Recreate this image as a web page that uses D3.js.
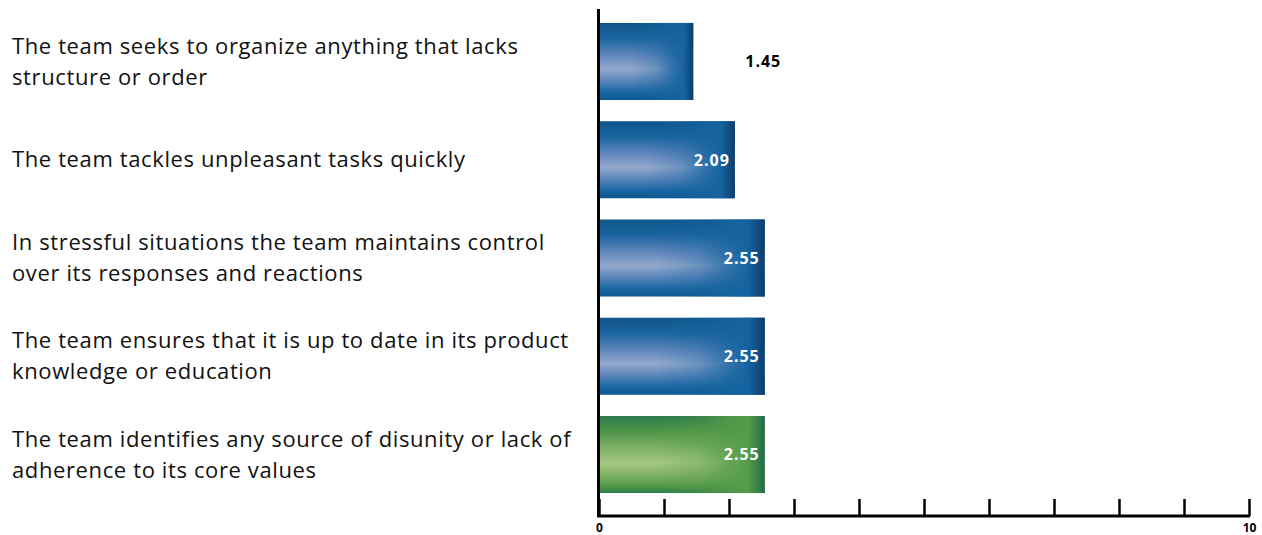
<!DOCTYPE html>
<html>
<head>
<meta charset="utf-8">
<script src="https://cdn.jsdelivr.net/npm/d3@7"></script>
<style>
  html, body { margin: 0; padding: 0; background: #fff; }
  svg { display: block; }
  .cat { font-family: "Open Sans", Lato, sans-serif; font-size: 22px; letter-spacing: 0.62px; fill: #111; }
  .val { font-family: "Open Sans", Lato, sans-serif; font-size: 16px; font-weight: 700; letter-spacing: 1px; }
  .tick-label { font-family: "Open Sans", Lato, sans-serif; font-size: 12px; font-weight: 700; fill: #000; }
</style>
</head>
<body>
<svg id="chart" width="1262" height="535"></svg>
<script>
// Statements, top to bottom (line breaks mark how each label wraps)
const categories = [
  "The team seeks to organize anything that lacks\nstructure or order",
  "The team tackles unpleasant tasks quickly",
  "In stressful situations the team maintains control\nover its responses and reactions",
  "The team ensures that it is up to date in its product\nknowledge or education",
  "The team identifies any source of disunity or lack of\nadherence to its core values"
];
const scores = [1.45, 2.09, 2.55, 2.55, 2.55];
const palettes = ["blue", "blue", "blue", "blue", "green"];
const tickValues = [0, 1, 2, 3, 4, 5, 6, 7, 8, 9, 10];
const tickLabels = ["0", "", "", "", "", "", "", "", "", "", "10"];

const svg = d3.select("#chart");

const x = d3.scaleLinear().domain([0, 10]).range([599, 1249]);
const y = d3.scaleBand()
  .domain(d3.range(categories.length))
  .range([10, 506])
  .paddingInner(0.216)
  .paddingOuter(0.132);

// Gradient fills: a soft light band a little below the middle, fading toward a dark right edge
const schemes = {
  blue: {
    vertical: [[0, "#0f558a"], [0.2, "#1a64a0"], [0.45, "#6a8cbf"], [0.6, "#94a9cd"],
               [0.75, "#5a85ba"], [0.9, "#1866a2"], [1, "#0e5890"]],
    base: "#1563a0", dark: "#0e3d6b"
  },
  green: {
    vertical: [[0, "#2c7a4c"], [0.2, "#4f9648"], [0.45, "#86b66c"], [0.6, "#a6c784"],
               [0.75, "#84b468"], [0.9, "#559a48"], [1, "#2f7d4a"]],
    base: "#559c48", dark: "#236a4d"
  }
};
const defs = svg.append("defs");
Object.entries(schemes).forEach(([name, c]) => {
  const v = defs.append("linearGradient").attr("id", "v-" + name)
    .attr("x1", 0).attr("y1", 0).attr("x2", 0).attr("y2", 1);
  c.vertical.forEach(([o, col]) => v.append("stop").attr("offset", o).attr("stop-color", col));
  const h = defs.append("linearGradient").attr("id", "h-" + name)
    .attr("x1", 0).attr("y1", 0).attr("x2", 1).attr("y2", 0);
  [[0, c.base, 0], [0.35, c.base, 0], [0.6, c.base, 0.3], [0.8, c.base, 0.8],
   [0.9, c.base, 1], [1, c.dark, 1]]
    .forEach(([o, col, op]) => h.append("stop").attr("offset", o)
      .attr("stop-color", col).attr("stop-opacity", op));
});

const bars = svg.append("g").selectAll("g").data(scores).join("g");
bars.append("rect")
  .attr("x", x(0)).attr("y", (d, i) => y(i))
  .attr("width", d => x(d) - x(0)).attr("height", y.bandwidth())
  .attr("fill", (d, i) => `url(#v-${palettes[i]})`);
bars.append("rect")
  .attr("x", x(0)).attr("y", (d, i) => y(i))
  .attr("width", d => x(d) - x(0)).attr("height", y.bandwidth())
  .attr("fill", (d, i) => `url(#h-${palettes[i]})`);

// Value labels: inside the bar end in white, or beside a short bar in black
const isShort = d => x(d) - x(0) < 110;
bars.append("text")
  .attr("class", "val")
  .attr("x", d => isShort(d) ? x(d) + 52 : x(d) - 5)
  .attr("y", (d, i) => y(i) + y.bandwidth() / 2)
  .attr("dy", "0.36em")
  .attr("text-anchor", d => isShort(d) ? "start" : "end")
  .attr("fill", d => isShort(d) ? "#000" : "#fff")
  .text(d => d.toFixed(2));

// Category labels
const lineH = 31;
svg.append("g").selectAll("text").data(categories).join("text")
  .attr("class", "cat")
  .each(function (d, i) {
    const lines = d.split("\n");
    const cy = y(i) + y.bandwidth() / 2;
    const t = d3.select(this);
    lines.forEach((ln, k) => {
      t.append("tspan")
        .attr("x", 12)
        .attr("y", cy + (k - (lines.length - 1) / 2) * lineH)
        .attr("dy", "0.35em")
        .text(ln);
    });
  });

// Axes
const xAxis = d3.axisBottom(x)
  .tickValues(tickValues)
  .tickSize(-17)
  .tickSizeOuter(0)
  .tickFormat((d, i) => tickLabels[i]);
const gx = svg.append("g").attr("transform", "translate(0,516)").call(xAxis);
gx.select(".domain").attr("stroke", "#000").attr("stroke-width", 3)
  .attr("d", `M${x(0) - 2},0H${x(10) + 1}`);
gx.selectAll(".tick line").attr("stroke", "#000").attr("stroke-width", 2.5);
gx.selectAll(".tick text").attr("class", "tick-label").attr("y", 7).attr("dy", "0.71em");

svg.append("line")
  .attr("x1", x(0) - 0.5).attr("x2", x(0) - 0.5)
  .attr("y1", 9).attr("y2", 517)
  .attr("stroke", "#000").attr("stroke-width", 3);
</script>
</body>
</html>
